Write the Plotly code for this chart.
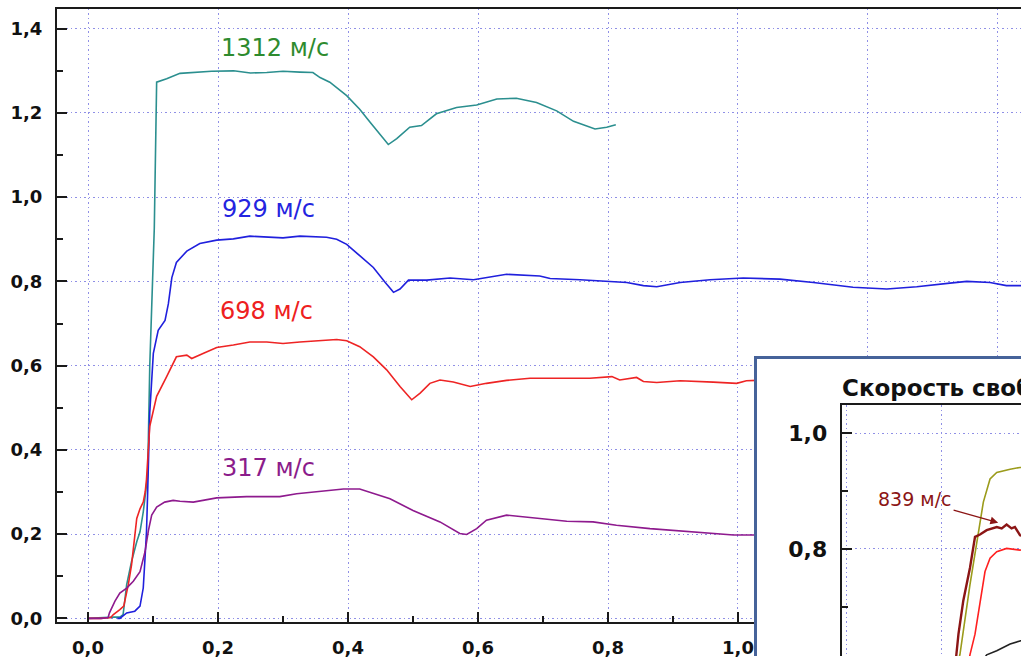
import plotly.graph_objects as go

W, H = 1021, 662
FONT = "DejaVu Sans"

# ---------------- main chart data ----------------
teal_x = [0.0, 0.02, 0.04, 0.049, 0.054, 0.0595, 0.067, 0.075, 0.08, 0.085, 0.09, 0.0918, 0.095, 0.098,
          0.1005, 0.102, 0.1056, 0.121, 0.1415, 0.172, 0.19, 0.224, 0.25, 0.275, 0.30, 0.326, 0.346, 0.357,
          0.372, 0.398, 0.418, 0.434, 0.462, 0.475, 0.495, 0.513, 0.536, 0.567, 0.598, 0.629, 0.659,
          0.690, 0.721, 0.747, 0.780, 0.798, 0.812]
teal_y = [0.0, 0.002, 0.003, 0.003, 0.009, 0.08, 0.135, 0.182, 0.2055, 0.2525, 0.3075, 0.339, 0.598, 0.731,
          0.849, 0.927, 1.273, 1.281, 1.294, 1.297, 1.299, 1.300, 1.295, 1.296, 1.299, 1.297, 1.296, 1.284,
          1.273, 1.241, 1.209, 1.178, 1.125, 1.139, 1.166, 1.170, 1.198, 1.213, 1.219, 1.233, 1.235,
          1.225, 1.205, 1.180, 1.162, 1.166, 1.172]

blue_x = [0.045, 0.049, 0.0595, 0.072, 0.08, 0.085, 0.0877, 0.09, 0.0918, 0.093, 0.095, 0.1005, 0.108,
          0.1185, 0.1236, 0.129, 0.136, 0.152, 0.172, 0.198, 0.2236, 0.249, 0.30, 0.326, 0.367, 0.3826,
          0.398, 0.418, 0.439, 0.457, 0.47, 0.48, 0.493, 0.521, 0.557, 0.593, 0.634, 0.644, 0.695, 0.711,
          0.757, 0.798, 0.829, 0.8545, 0.875, 0.911, 0.957, 1.008, 1.0646, 1.116, 1.177, 1.229, 1.275,
          1.326, 1.352, 1.3877, 1.413, 1.435, 1.45]
blue_y = [0.0, 0.0, 0.013, 0.017, 0.029, 0.072, 0.143, 0.2055, 0.30, 0.36, 0.488, 0.629, 0.684,
          0.7075, 0.7466, 0.809, 0.845, 0.872, 0.890, 0.898, 0.901, 0.9075, 0.9035, 0.9075, 0.905, 0.90,
          0.888, 0.861, 0.833, 0.798, 0.774, 0.782, 0.803, 0.803, 0.808, 0.804, 0.813, 0.817, 0.813, 0.807,
          0.804, 0.80, 0.7976, 0.79, 0.7875, 0.7976, 0.804, 0.808, 0.8055, 0.7976, 0.786, 0.782, 0.7875,
          0.796, 0.80, 0.7976, 0.79, 0.79, 0.79]

red_x = [0.0, 0.02, 0.035, 0.039, 0.049, 0.055, 0.062, 0.067, 0.071, 0.075, 0.08, 0.085, 0.088, 0.090,
         0.095, 0.1056, 0.121, 0.136, 0.152, 0.1595, 0.177, 0.198, 0.2236, 0.249, 0.275, 0.30, 0.326, 0.352,
         0.3826, 0.398, 0.418, 0.439, 0.4595, 0.48, 0.498, 0.511, 0.526, 0.5415, 0.562, 0.588, 0.613,
         0.644, 0.68, 0.731, 0.772, 0.806, 0.818, 0.844, 0.8545, 0.875, 0.911, 0.962, 0.998, 1.013,
         1.029, 1.06]
red_y = [0.0, 0.0, 0.002, 0.009, 0.021, 0.029, 0.08, 0.127, 0.182, 0.237, 0.26, 0.276, 0.30, 0.33,
         0.456, 0.527, 0.574, 0.621, 0.625, 0.617, 0.629, 0.643, 0.649, 0.656, 0.656, 0.6525, 0.656, 0.659,
         0.662, 0.659, 0.645, 0.621, 0.59, 0.5506, 0.519, 0.535, 0.558, 0.566, 0.561, 0.5506, 0.558,
         0.565, 0.570, 0.570, 0.570, 0.574, 0.566, 0.572, 0.5624, 0.56, 0.564, 0.561, 0.558, 0.564,
         0.565, 0.565]

purple_x = [0.0, 0.02, 0.031, 0.033, 0.0415, 0.049, 0.0595, 0.0697, 0.08, 0.0877, 0.093, 0.098, 0.1056,
            0.118, 0.131, 0.1415, 0.162, 0.198, 0.244, 0.295, 0.321, 0.357, 0.393, 0.418, 0.4646, 0.50,
            0.5415, 0.572, 0.5826, 0.598, 0.613, 0.644, 0.685, 0.7365, 0.777, 0.813, 0.8646, 0.916,
            0.9415, 0.993, 1.029, 1.06]
purple_y = [0.0, 0.0, 0.002, 0.013, 0.041, 0.060, 0.072, 0.088, 0.111, 0.158, 0.209, 0.245, 0.264,
            0.276, 0.280, 0.278, 0.276, 0.286, 0.289, 0.289, 0.296, 0.301, 0.307, 0.307, 0.284, 0.256,
            0.229, 0.2016, 0.199, 0.213, 0.233, 0.245, 0.238, 0.2306, 0.229, 0.221, 0.213, 0.207,
            0.2055, 0.198, 0.198, 0.197]

x_tickvals = [0.0, 0.2, 0.4, 0.6, 0.8, 1.0, 1.2, 1.4]
x_ticktext = ["0,0", "0,2", "0,4", "0,6", "0,8", "1,0", "", ""]

main_labels = ["1312 м/с", "929 м/с", "698 м/с", "317 м/с"]
label_x = [0.288, 0.278, 0.274, 0.278]
label_y = [1.355, 0.972, 0.729, 0.358]

# ---------------- inset data ----------------
olive_x = [0.225, 0.238, 0.259, 0.273, 0.287, 0.301, 0.315, 0.343, 0.3636, 0.38]
olive_y = [0.58, 0.617, 0.738, 0.807, 0.881, 0.921, 0.9325, 0.938, 0.941, 0.941]
darkred_x = [0.226, 0.2313, 0.235, 0.245, 0.259, 0.2696, 0.28, 0.294, 0.315, 0.3254, 0.3356, 0.346,
             0.353, 0.3636, 0.38]
darkred_y = [0.58, 0.617, 0.6526, 0.71, 0.767, 0.821, 0.825, 0.8326, 0.838, 0.8355, 0.8423, 0.8355,
             0.838, 0.824, 0.82]
red2_x = [0.253, 0.259, 0.2696, 0.28, 0.2905, 0.301, 0.315, 0.3356, 0.3496, 0.3636, 0.38]
red2_y = [0.58, 0.617, 0.6526, 0.71, 0.761, 0.784, 0.7954, 0.801, 0.7995, 0.798, 0.80]
black_x = [0.28, 0.294, 0.315, 0.343, 0.3636, 0.38]
black_y = [0.60, 0.617, 0.624, 0.6355, 0.641, 0.645]

inset_title = "Скорость свободной поверхности"
inset_label = "839 м/с"
inset_label_pt = (0.322, 0.8446)

# ---------------- styles ----------------
GRID = "#8f8fe6"
GRIDDASH = "1.5px,3px"
AXC = "#1a1a1a"
FRAME = "#46639a"

fig = go.Figure()

main_series = [
    (teal_x, teal_y, "#2b8f8f"),
    (blue_x, blue_y, "#2020dd"),
    (red_x, red_y, "#ee2424"),
    (purple_x, purple_y, "#8e1a8e"),
]
for xs, ys, c in main_series:
    fig.add_trace(go.Scatter(x=xs, y=ys, mode="lines", line=dict(color=c, width=1.6),
                             xaxis="x", yaxis="y", showlegend=False, hoverinfo="skip"))

# frame subplot (white box with border)
fig.add_trace(go.Scatter(x=[None], y=[None], mode="lines", xaxis="x2", yaxis="y2",
                         showlegend=False, hoverinfo="skip"))

inset_series = [
    (olive_x, olive_y, "#9b9b1b", 1.6),
    (darkred_x, darkred_y, "#8b1515", 2.4),
    (red2_x, red2_y, "#ff2020", 1.6),
    (black_x, black_y, "#222222", 1.6),
]
for xs, ys, c, w in inset_series:
    fig.add_trace(go.Scatter(x=xs, y=ys, mode="lines", line=dict(color=c, width=w),
                             xaxis="x3", yaxis="y3", showlegend=False, hoverinfo="skip"))

tickfont_main = dict(family=FONT, size=18, color="#111111", weight="bold")
minor_main = dict(dtick=0.1, tick0=0, ticks="inside", ticklen=6, tickwidth=2,
                  tickcolor=AXC, showgrid=False)

fig.update_layout(
    width=W, height=H,
    margin=dict(l=0, r=0, t=0, b=0),
    paper_bgcolor="white", plot_bgcolor="white",
    separators=", ",
    showlegend=False,
    xaxis=dict(domain=[57 / W, 1], range=[-0.0477, 1.4354], anchor="y",
               showline=True, linecolor=AXC, linewidth=2, mirror=True,
               ticks="inside", ticklen=10, tickwidth=2, tickcolor=AXC,
               tickmode="array", tickvals=x_tickvals, ticktext=x_ticktext,
               showgrid=True, gridcolor=GRID, griddash=GRIDDASH, gridwidth=1, zeroline=False,
               minor=minor_main, tickfont=tickfont_main, ticklabelstandoff=8),
    yaxis=dict(domain=[1 - 628 / H, 1 - 9 / H], range=[-0.0094, 1.447], anchor="x",
               showline=True, linecolor=AXC, linewidth=2, mirror=False,
               ticks="inside", ticklen=10, tickwidth=2, tickcolor=AXC,
               tick0=0, dtick=0.2, tickformat=".1f",
               showgrid=True, gridcolor=GRID, griddash=GRIDDASH, gridwidth=1, zeroline=False,
               minor=minor_main, tickfont=tickfont_main, ticklabelstandoff=9),
    xaxis2=dict(domain=[757 / W, 1], range=[0, 1], anchor="y2", side="top",
                showline=True, linecolor=FRAME, linewidth=2.5, showgrid=False,
                zeroline=False, showticklabels=False, ticks=""),
    yaxis2=dict(domain=[0, 1 - 362 / H], range=[0, 1], anchor="x2",
                showline=True, linecolor=FRAME, linewidth=2.5, showgrid=False,
                zeroline=False, showticklabels=False, ticks=""),
    xaxis3=dict(domain=[841.7 / W, 1], range=[-0.009, 0.3657], anchor="y3", side="top",
                showline=True, linecolor=AXC, linewidth=2, ticks="", showticklabels=False,
                tick0=0, dtick=0.2, showgrid=True, gridcolor=GRID, griddash=GRIDDASH,
                gridwidth=1, zeroline=False),
    yaxis3=dict(domain=[0, 1 - 409 / H], range=[0.6149, 1.0485], anchor="x3",
                showline=True, linecolor=AXC, linewidth=2,
                ticks="inside", ticklen=10, tickwidth=2, tickcolor=AXC,
                tick0=0, dtick=0.2, tickformat=".1f",
                showgrid=True, gridcolor=GRID, griddash=GRIDDASH, gridwidth=1, zeroline=False,
                minor=minor_main,
                tickfont=dict(family=FONT, size=22, color="#111111", weight="bold"),
                ticklabelstandoff=8),
)

label_colors = ["#2e8b2e", "#2424e0", "#ee2020", "#8b1c8b"]
for t, x, y, c in zip(main_labels, label_x, label_y, label_colors):
    fig.add_annotation(text=t, x=x, y=y, xref="x", yref="y", showarrow=False,
                       font=dict(family=FONT, size=24, color=c), xanchor="center", yanchor="middle")

fig.add_annotation(text=inset_title, x=840 / W, y=1 - 392 / H, xref="paper", yref="paper",
                   xanchor="left", yanchor="middle", showarrow=False,
                   font=dict(family=FONT, size=23, color="#111111", weight="bold"))

fig.add_annotation(text=inset_label, x=inset_label_pt[0], y=inset_label_pt[1], xref="x3", yref="y3",
                   ax=-85, ay=-24, showarrow=True, arrowhead=2, arrowsize=1.2, arrowwidth=1.3,
                   arrowcolor="#8b1515", standoff=2,
                   font=dict(family=FONT, size=19, color="#8b1515"))

fig.write_html("out.html")
